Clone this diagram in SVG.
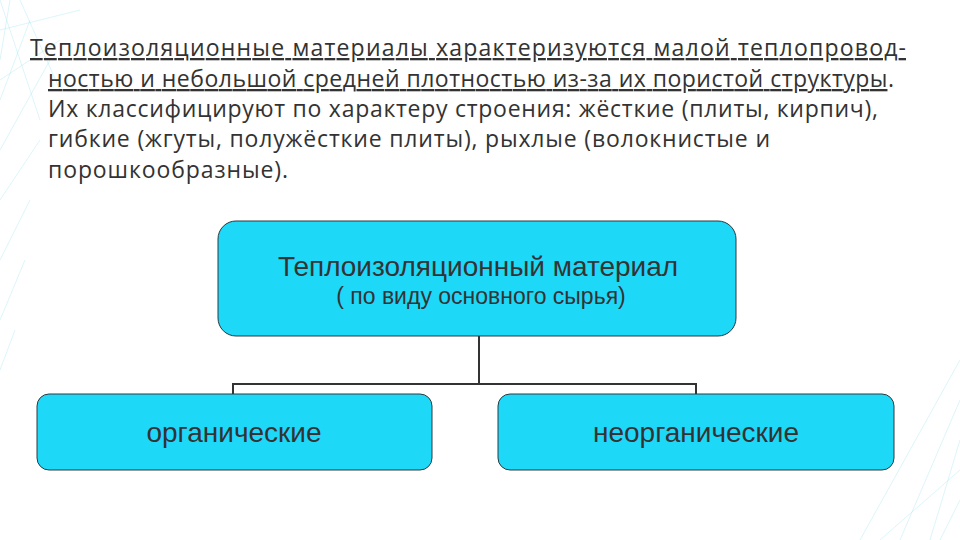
<svg xmlns="http://www.w3.org/2000/svg" width="960" height="540" viewBox="0 0 960 540">
<style>
.p{font-family:"Open Sans","DejaVu Sans",sans-serif;font-size:23px;fill:#333}
.u{text-decoration:underline}
.box{fill:#1ED8F8;stroke:#2a3a40;stroke-width:1}
.t{font-family:"Liberation Sans",Arial,sans-serif;fill:#333;text-anchor:middle}
.c{stroke:#333;stroke-width:2;fill:none}
.bg{stroke:#a8e6f4;stroke-width:0.6;fill:none;opacity:0.7}
</style>
<rect width="960" height="540" fill="#fff"/>
<g id="bg">
<path class="bg" d="M0 0 L40 120 M10 0 L0 60 M20 0 L60 90 M0 100 L30 20 M0 150 L50 60 M0 200 L40 140 M0 260 L30 200 M0 320 L25 260 M0 370 L15 330 M0 30 L80 10 M0 80 L60 40"/>
<path class="bg" d="M960 400 L900 540 M960 440 L930 540 M960 360 L860 540 M940 540 L960 500 M880 540 L960 470"/>
</g>
<g id="text">
<text class="p" x="30" y="56" textLength="876"><tspan class="u">Теплоизоляционные материалы характеризуются малой теплопровод-</tspan></text>
<text class="p" x="48" y="87" textLength="846"><tspan class="u">ностью и небольшой средней плотностью из-за их пористой структуры</tspan>.</text>
<text class="p" x="48" y="117" textLength="830">Их классифицируют по характеру строения: жёсткие (плиты, кирпич),</text>
<text class="p" x="48" y="147" textLength="722">гибкие (жгуты, полужёсткие плиты), рыхлые (волокнистые и</text>
<text class="p" x="48" y="178" textLength="240">порошкообразные).</text>
</g>
<g id="connectors">
<path class="c" d="M479 336 V384 M233 394 V384 H696 V394"/>
</g>
<g id="root">
<rect class="box" x="218" y="221" width="518" height="115" rx="18"/>
<text class="t" x="478" y="276" font-size="28">Теплоизоляционный материал</text>
<text class="t" x="481" y="304" font-size="23">( по виду основного сырья)</text>
</g>
<g id="organic">
<rect class="box" x="37" y="394" width="395" height="76" rx="12"/>
<text class="t" x="234" y="442" font-size="28">органические</text>
</g>
<g id="inorganic">
<rect class="box" x="498" y="394" width="396" height="76" rx="12"/>
<text class="t" x="696" y="442" font-size="28">неорганические</text>
</g>
</svg>
